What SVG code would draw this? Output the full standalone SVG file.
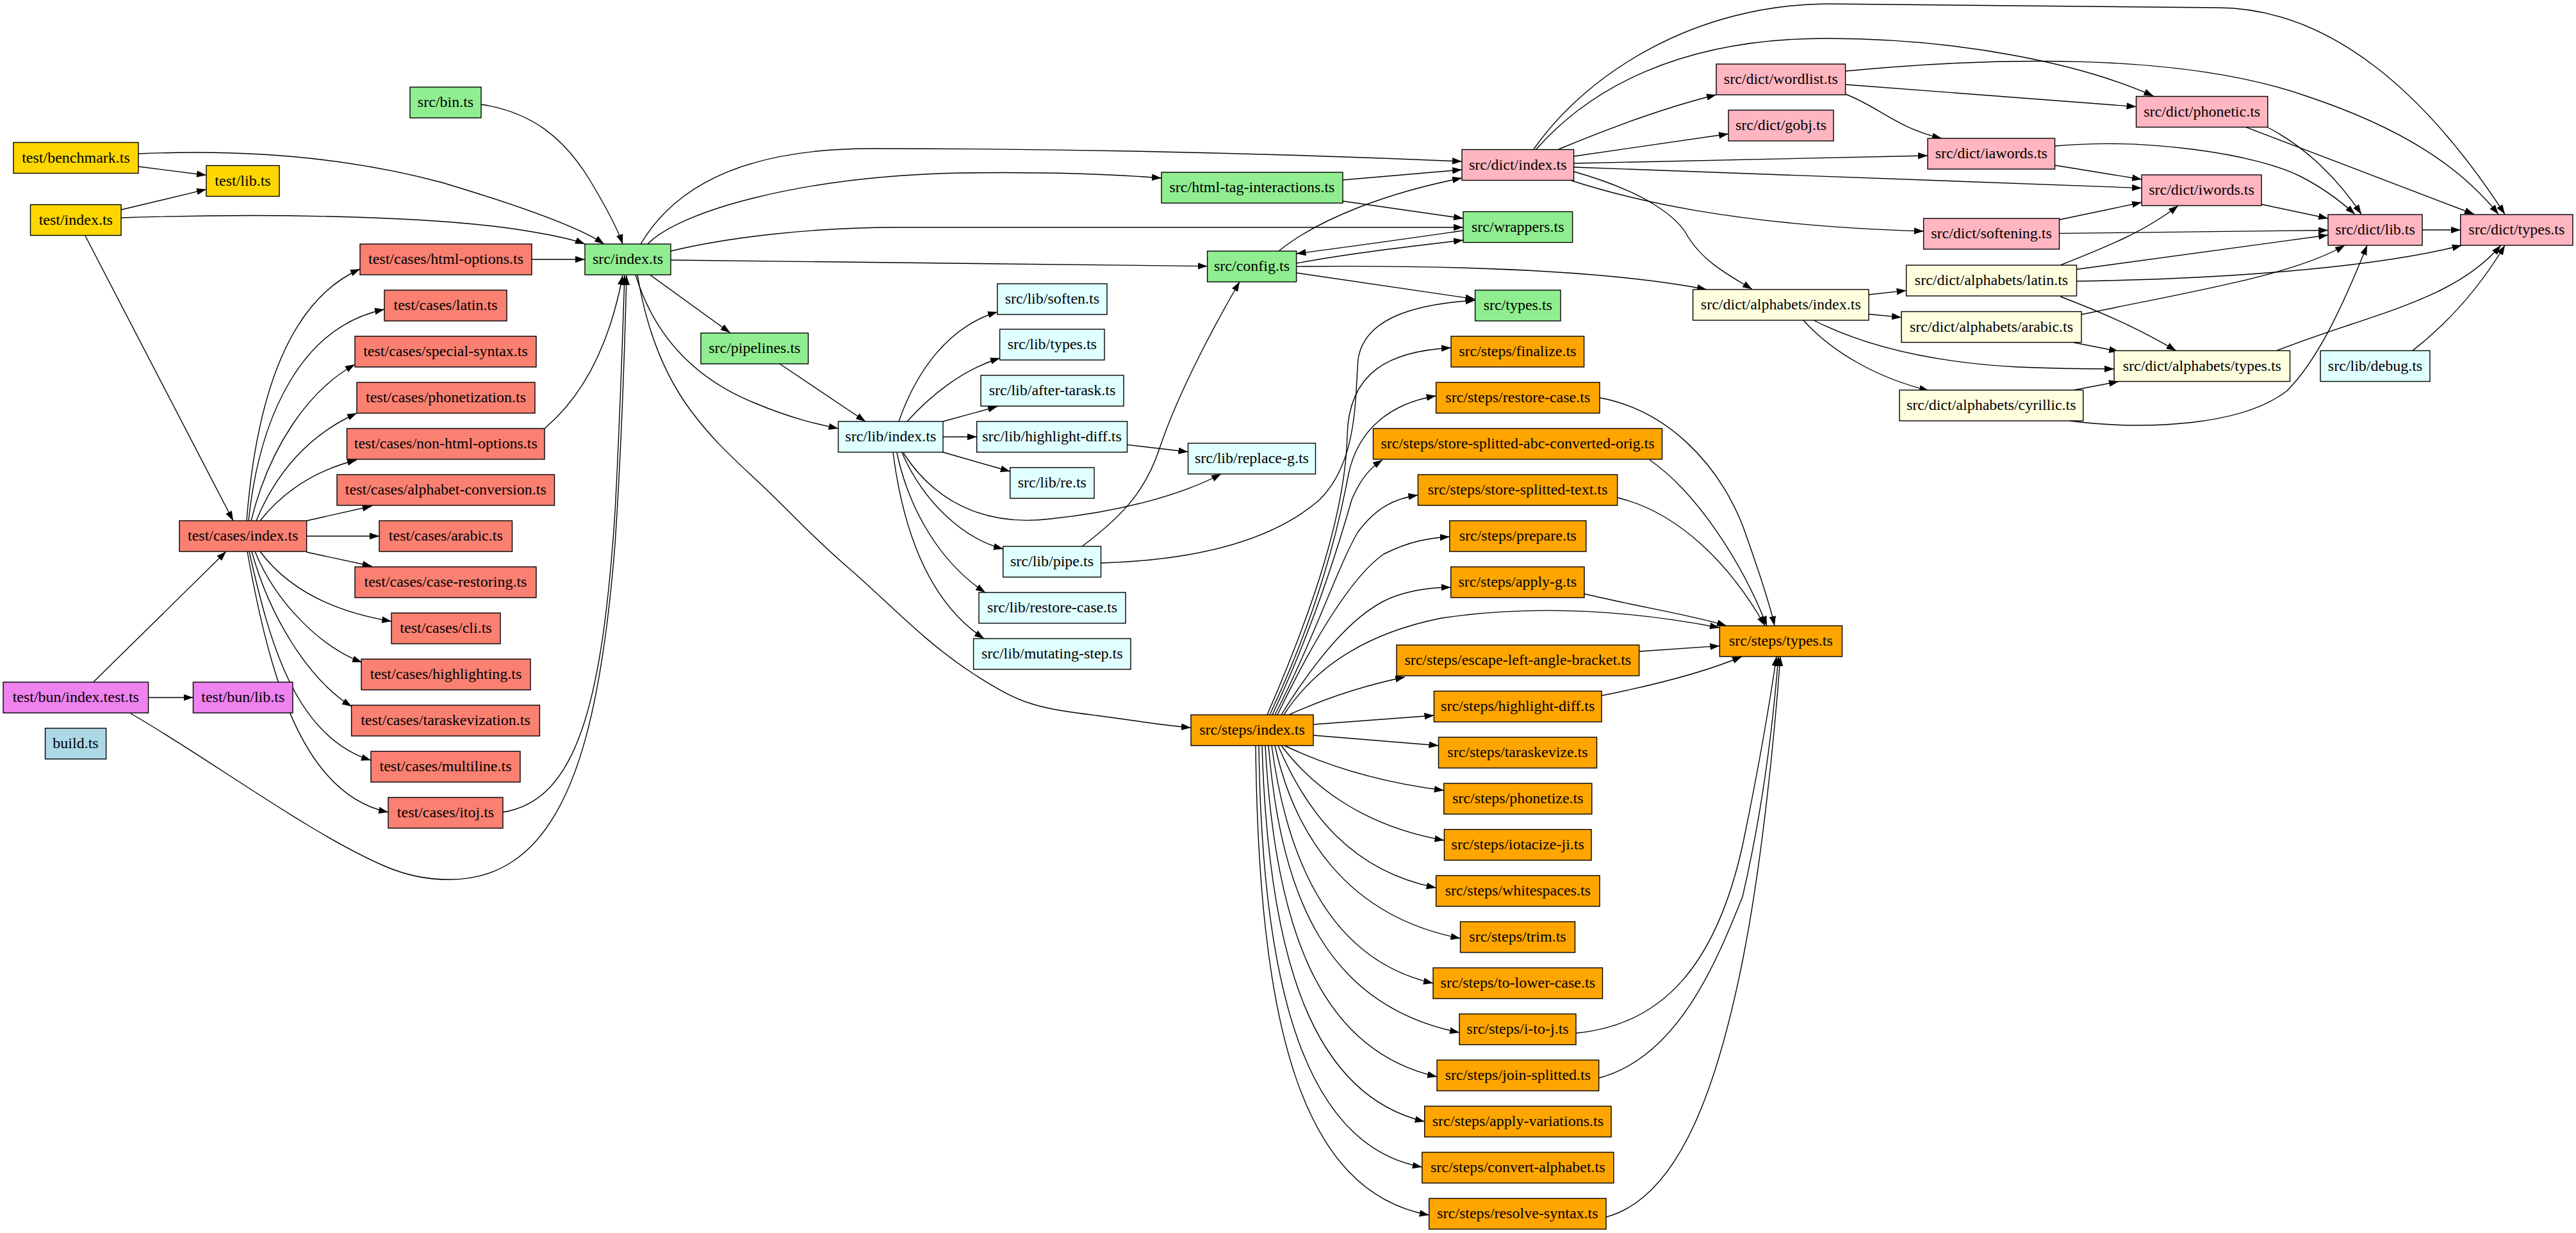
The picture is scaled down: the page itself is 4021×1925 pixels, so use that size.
<svg xmlns="http://www.w3.org/2000/svg" width="4021" height="1925" viewBox="0 0 4021 1925">
<defs>
<marker id="arr" markerUnits="userSpaceOnUse" markerWidth="16" markerHeight="12" refX="15" refY="5.3" orient="auto"><path d="M0,0 L15,5.3 L0,10.6 z" fill="#000"/></marker>
<style>
.n rect{stroke:#000;stroke-width:1.4}
.n text{font-family:"Liberation Serif","Times New Roman",serif;font-size:24px;text-anchor:middle;fill:#000}
#edges path{fill:none;stroke:#000;stroke-width:1.4;marker-end:url(#arr)}
.gold{fill:#ffd700}.lg{fill:#90ee90}.sal{fill:#fa8072}.vio{fill:#ee82ee}.lb{fill:#add8e6}.lc{fill:#e0ffff}.lp{fill:#ffb6c1}.ly{fill:#ffffe0}.or{fill:#ffa500}
</style>
</defs>
<rect width="4021" height="1925" fill="#fff"/>
<g id="edges">
<path d="M216,260 L322,273.5"/>
<path d="M216,240 C400,232 560,250 690,285 C800,318 900,352 943,381"/>
<path d="M189,327.5 L322,295.6"/>
<path d="M189,340 C400,333 650,336 800,357 C860,366 895,374 913,381"/>
<path d="M133,368 L364,813"/>
<path d="M751,163 C830,175 880,215 920,280 C950,330 965,360 972,381"/>
<path d="M830,405 L913,405"/>
<path d="M385,813 C400,620 450,470 562,420"/>
<path d="M388,813 C405,650 470,510 600,483"/>
<path d="M392,813 C420,700 480,610 554,569"/>
<path d="M400,813 C430,740 480,680 557,645"/>
<path d="M406,813 C440,770 490,735 557,718"/>
<path d="M478.6,813 L580.6,790"/>
<path d="M478.6,837 L592,837"/>
<path d="M478.6,862 L580.6,884"/>
<path d="M406,861 C450,920 520,955 611,970"/>
<path d="M398,861 C430,940 500,1010 565,1034"/>
<path d="M393,861 C420,960 480,1060 549,1103"/>
<path d="M389,861 C420,1000 460,1150 579,1187"/>
<path d="M386,861 C420,1050 470,1240 606,1268"/>
<path d="M850,669 C920,610 955,520 972,430"/>
<path d="M785,1268 C900,1250 940,1100 960,800 C968,650 972,520 975,430"/>
<path d="M204,1114 C320,1180 480,1300 600,1352 C660,1378 740,1385 800,1345 C900,1280 940,1100 960,850 C970,700 975,550 978,430"/>
<path d="M145.6,1065 L353,861"/>
<path d="M231.6,1089 L301.5,1089"/>
<path d="M1000,381 C1060,280 1180,232 1360,232 C1700,232 2000,240 2282,252"/>
<path d="M1011,381 C1060,330 1250,275 1500,270 C1650,268 1750,273 1813,278"/>
<path d="M1047,392 C1130,372 1260,355 1400,355 L2284,355"/>
<path d="M1047,406 L1884.6,415.6"/>
<path d="M1014.6,429 L1139.7,519.6"/>
<path d="M992,429 C1020,520 1080,590 1180,630 C1240,655 1280,663 1308.5,669"/>
<path d="M995,429 C1010,520 1040,590 1079,642 S1150,720 1197,765 S1270,840 1326,888 S1440,1000 1518,1051 S1620,1105 1711,1117 S1810,1132 1859,1136"/>
<path d="M1217,568 L1351,658"/>
<path d="M1403,658 C1430,580 1480,510 1557,487"/>
<path d="M1416,658 C1450,620 1500,578 1561,559"/>
<path d="M1472,658 L1557,634.6"/>
<path d="M1472,682 L1524.7,682"/>
<path d="M1472,706 L1576.7,736"/>
<path d="M1410,707 C1470,800 1560,820 1640,810 C1740,800 1840,775 1906,740"/>
<path d="M1408,707 C1440,780 1500,840 1566,857"/>
<path d="M1400,707 C1420,800 1470,880 1538,925"/>
<path d="M1394,707 C1410,830 1450,940 1536,997"/>
<path d="M1759.5,694.4 L1854.5,705.5"/>
<path d="M1689,853 C1760,800 1790,760 1810,700 C1840,610 1900,500 1935,440"/>
<path d="M1718,879 C1850,875 1980,850 2060,780 C2120,720 2115,620 2120,560 C2130,500 2200,475 2302.6,469"/>
<path d="M1978,1116 C2050,950 2100,800 2103,680 C2105,580 2170,548 2265,543"/>
<path d="M1982,1116 C2060,950 2090,820 2105,740 C2120,670 2170,630 2241.6,618"/>
<path d="M1986,1116 C2050,980 2090,850 2110,780 C2125,745 2140,730 2158,718"/>
<path d="M1990,1116 C2050,1000 2090,880 2120,830 C2150,790 2180,778 2213.4,773"/>
<path d="M1994,1116 C2050,1000 2110,900 2160,865 C2200,845 2230,840 2262.8,838"/>
<path d="M2000,1116 C2060,1020 2120,950 2180,930 C2210,920 2240,917 2264.7,917"/>
<path d="M2004,1116 C2060,1030 2150,985 2250,965 C2420,940 2580,960 2684,980"/>
<path d="M2012,1116 C2080,1085 2140,1068 2193,1057"/>
<path d="M2050,1131 L2238.4,1117"/>
<path d="M2050,1148 L2245.5,1164"/>
<path d="M2005,1164 C2080,1200 2160,1222 2253.8,1234"/>
<path d="M2000,1164 C2050,1230 2130,1290 2254.4,1312"/>
<path d="M1995,1164 C2040,1270 2110,1360 2241.6,1386"/>
<path d="M1990,1164 C2020,1300 2100,1430 2279.5,1465"/>
<path d="M1985,1164 C2010,1350 2080,1500 2237,1535"/>
<path d="M1980,1164 C2000,1400 2070,1570 2278,1612"/>
<path d="M1975,1164 C1990,1450 2060,1640 2243,1681"/>
<path d="M1970,1164 C1980,1500 2050,1710 2223.7,1751"/>
<path d="M1965,1164 C1970,1550 2040,1790 2219.8,1822"/>
<path d="M1960,1164 C1965,1600 2030,1860 2230.7,1897"/>
<path d="M2497,621 C2600,640 2680,720 2720,820 C2745,890 2762,940 2770,977"/>
<path d="M2575,718 C2650,770 2720,880 2758,977"/>
<path d="M2525,777 C2620,800 2700,880 2755,977"/>
<path d="M2473,927 C2560,948 2640,960 2695,977"/>
<path d="M2558.6,1017 L2684.3,1008.4"/>
<path d="M2500,1086 C2580,1070 2660,1050 2719,1025"/>
<path d="M2460,1613 C2600,1600 2680,1500 2720,1320 C2745,1200 2762,1100 2773,1025"/>
<path d="M2496,1683 C2620,1650 2680,1500 2720,1400 C2755,1250 2770,1100 2776,1025"/>
<path d="M2507,1900 C2620,1870 2680,1700 2720,1500 C2750,1350 2770,1150 2779,1025"/>
<path d="M1996,392 C2060,340 2170,300 2282,278"/>
<path d="M2023.5,411 C2110,395 2200,385 2284,375"/>
<path d="M2284,360 C2200,372 2110,385 2023.5,396"/>
<path d="M2023.5,426 L2302.6,467"/>
<path d="M2023.5,416 C2250,414 2500,420 2664,452"/>
<path d="M2096,281 L2282,265"/>
<path d="M2096,314 L2284,341"/>
<path d="M2433,233 C2500,205 2590,170 2679,148"/>
<path d="M2456.6,244 L2698,209"/>
<path d="M2456.6,255 L3009,243"/>
<path d="M2456.6,261 L3343,293.6"/>
<path d="M2453,282 C2540,310 2700,352 3002.6,361"/>
<path d="M2457,268 C2570,300 2620,340 2635,370 C2660,410 2700,430 2735,451.6"/>
<path d="M2398,233 C2480,140 2620,60 2850,60 C3060,60 3250,100 3361.5,150"/>
<path d="M2394,233 C2480,110 2650,8 2850,6 L3460,12 C3640,12 3790,150 3910,334.5"/>
<path d="M2880.6,111 C3100,90 3400,80 3600,150 C3750,200 3840,260 3900,334.5"/>
<path d="M2880.6,132 L3334.5,166.6"/>
<path d="M2880.6,147 C2930,165 2960,200 3031,216"/>
<path d="M3207.5,228 C3350,215 3520,240 3590,275 C3630,295 3660,320 3676,334.5"/>
<path d="M3207.5,258 L3343,280"/>
<path d="M3214.5,343 L3343,316"/>
<path d="M3214.5,364.4 L3634,359.5"/>
<path d="M3530,319 L3634,341"/>
<path d="M3540,199 C3600,230 3650,280 3686,334.5"/>
<path d="M3506,198.6 L3862,334.5"/>
<path d="M3781,359 L3840.7,359"/>
<path d="M3216,414 C3290,385 3350,360 3400,321"/>
<path d="M3241.5,420.5 L3634,367"/>
<path d="M3241.5,439 C3450,436 3700,420 3842.7,383"/>
<path d="M3216,463 C3300,495 3350,520 3396.7,547.4"/>
<path d="M3249,491 C3420,455 3580,430 3660,383"/>
<path d="M3237,534.7 L3307,548.6"/>
<path d="M3554,547.4 C3700,490 3830,470 3903.6,383"/>
<path d="M3766,547.4 C3820,505 3870,450 3910,383"/>
<path d="M3237,609 L3307,595.7"/>
<path d="M3230,657 C3350,672 3500,665 3570,610 C3620,560 3660,470 3695,383"/>
<path d="M2917,460 L2975.6,453.6"/>
<path d="M2917,490.5 L2968,495.4"/>
<path d="M2831,500 C2900,535 3000,565 3150,573 C3220,576 3260,576 3300,576"/>
<path d="M2815,500 C2860,550 2930,590 3011,610"/>
</g>
<g id="n-test-benchmark" class="n"><rect class="gold" x="21" y="222.5" width="195" height="48"/><text x="118.5" y="253.5">test/benchmark.ts</text></g>
<g id="n-test-lib" class="n"><rect class="gold" x="322" y="258.5" width="114" height="48"/><text x="379" y="289.5">test/lib.ts</text></g>
<g id="n-test-index" class="n"><rect class="gold" x="47.5" y="319.5" width="141.5" height="48"/><text x="118.3" y="350.5">test/index.ts</text></g>
<g id="n-src-bin" class="n"><rect class="lg" x="640" y="136" width="111" height="48"/><text x="695.5" y="167">src/bin.ts</text></g>
<g id="n-tc-html-options" class="n"><rect class="sal" x="562" y="381" width="268" height="48"/><text x="696" y="412">test/cases/html-options.ts</text></g>
<g id="n-src-index" class="n"><rect class="lg" x="913" y="381" width="134" height="48"/><text x="980" y="412">src/index.ts</text></g>
<g id="n-tc-latin" class="n"><rect class="sal" x="600" y="453" width="191" height="48"/><text x="695.5" y="484">test/cases/latin.ts</text></g>
<g id="n-tc-special-syntax" class="n"><rect class="sal" x="554" y="525" width="283" height="48"/><text x="695.5" y="556">test/cases/special-syntax.ts</text></g>
<g id="n-tc-phonetization" class="n"><rect class="sal" x="557" y="597" width="278" height="48"/><text x="696" y="628">test/cases/phonetization.ts</text></g>
<g id="n-tc-non-html-options" class="n"><rect class="sal" x="541.5" y="669" width="308.5" height="48"/><text x="695.8" y="700">test/cases/non-html-options.ts</text></g>
<g id="n-tc-alphabet-conversion" class="n"><rect class="sal" x="526" y="741" width="339.5" height="48"/><text x="695.8" y="772">test/cases/alphabet-conversion.ts</text></g>
<g id="n-tc-index" class="n"><rect class="sal" x="280" y="813" width="198.6" height="48"/><text x="379.3" y="844">test/cases/index.ts</text></g>
<g id="n-tc-arabic" class="n"><rect class="sal" x="592" y="813" width="207.5" height="48"/><text x="695.8" y="844">test/cases/arabic.ts</text></g>
<g id="n-tc-case-restoring" class="n"><rect class="sal" x="554" y="885" width="283" height="48"/><text x="695.5" y="916">test/cases/case-restoring.ts</text></g>
<g id="n-tc-cli" class="n"><rect class="sal" x="611" y="957" width="170" height="48"/><text x="696" y="988">test/cases/cli.ts</text></g>
<g id="n-tc-highlighting" class="n"><rect class="sal" x="564" y="1029" width="264" height="48"/><text x="696" y="1060">test/cases/highlighting.ts</text></g>
<g id="n-tc-taraskevization" class="n"><rect class="sal" x="548.6" y="1101" width="293.8" height="48"/><text x="695.5" y="1132">test/cases/taraskevization.ts</text></g>
<g id="n-tc-multiline" class="n"><rect class="sal" x="579" y="1173" width="233" height="48"/><text x="695.5" y="1204">test/cases/multiline.ts</text></g>
<g id="n-tc-itoj" class="n"><rect class="sal" x="606" y="1245" width="179" height="48"/><text x="695.5" y="1276">test/cases/itoj.ts</text></g>
<g id="n-bun-index-test" class="n"><rect class="vio" x="5" y="1065" width="226.6" height="48"/><text x="118.3" y="1096">test/bun/index.test.ts</text></g>
<g id="n-bun-lib" class="n"><rect class="vio" x="301.5" y="1065" width="155.5" height="48"/><text x="379.3" y="1096">test/bun/lib.ts</text></g>
<g id="n-build" class="n"><rect class="lb" x="70.6" y="1137" width="95" height="48"/><text x="118" y="1168">build.ts</text></g>
<g id="n-src-pipelines" class="n"><rect class="lg" x="1094" y="520" width="167.6" height="48"/><text x="1177.8" y="551">src/pipelines.ts</text></g>
<g id="n-lib-index" class="n"><rect class="lc" x="1308.5" y="658" width="163.5" height="48"/><text x="1390.3" y="689">src/lib/index.ts</text></g>
<g id="n-lib-soften" class="n"><rect class="lc" x="1556.8" y="443" width="171.2" height="48"/><text x="1642.4" y="474">src/lib/soften.ts</text></g>
<g id="n-lib-types" class="n"><rect class="lc" x="1560.6" y="514" width="163.4" height="48"/><text x="1642.3" y="545">src/lib/types.ts</text></g>
<g id="n-lib-after-tarask" class="n"><rect class="lc" x="1531" y="586" width="223" height="48"/><text x="1642.5" y="617">src/lib/after-tarask.ts</text></g>
<g id="n-lib-highlight-diff" class="n"><rect class="lc" x="1524.7" y="658" width="234.8" height="48"/><text x="1642" y="689">src/lib/highlight-diff.ts</text></g>
<g id="n-lib-re" class="n"><rect class="lc" x="1576.7" y="730" width="131.3" height="48"/><text x="1642.3" y="761">src/lib/re.ts</text></g>
<g id="n-lib-pipe" class="n"><rect class="lc" x="1565.7" y="853" width="152.8" height="48"/><text x="1642" y="884">src/lib/pipe.ts</text></g>
<g id="n-lib-restore-case" class="n"><rect class="lc" x="1528" y="925" width="229" height="48"/><text x="1642.5" y="956">src/lib/restore-case.ts</text></g>
<g id="n-lib-mutating-step" class="n"><rect class="lc" x="1519.6" y="997" width="245.4" height="48"/><text x="1642.3" y="1028">src/lib/mutating-step.ts</text></g>
<g id="n-html-tag" class="n"><rect class="lg" x="1813" y="269" width="283" height="48"/><text x="1954.5" y="300">src/html-tag-interactions.ts</text></g>
<g id="n-config" class="n"><rect class="lg" x="1884.6" y="392" width="139" height="48"/><text x="1954" y="423">src/config.ts</text></g>
<g id="n-lib-replace-g" class="n"><rect class="lc" x="1854.5" y="692" width="199" height="48"/><text x="1954" y="723">src/lib/replace-g.ts</text></g>
<g id="n-steps-index" class="n"><rect class="or" x="1859" y="1116" width="191" height="48"/><text x="1954.5" y="1147">src/steps/index.ts</text></g>
<g id="n-dict-index" class="n"><rect class="lp" x="2282" y="233.5" width="174.6" height="48"/><text x="2369.3" y="264.5">src/dict/index.ts</text></g>
<g id="n-wrappers" class="n"><rect class="lg" x="2284" y="330.5" width="170.6" height="48"/><text x="2369.3" y="361.5">src/wrappers.ts</text></g>
<g id="n-types" class="n"><rect class="lg" x="2302.6" y="453" width="133.4" height="48"/><text x="2369.3" y="484">src/types.ts</text></g>
<g id="n-st-finalize" class="n"><rect class="or" x="2265" y="525" width="207.6" height="48"/><text x="2368.8" y="556">src/steps/finalize.ts</text></g>
<g id="n-st-restore-case" class="n"><rect class="or" x="2241.6" y="597" width="255.4" height="48"/><text x="2369.3" y="628">src/steps/restore-case.ts</text></g>
<g id="n-st-store-abc" class="n"><rect class="or" x="2143.5" y="669" width="451" height="48"/><text x="2369" y="700">src/steps/store-splitted-abc-converted-orig.ts</text></g>
<g id="n-st-store-text" class="n"><rect class="or" x="2213.4" y="741" width="311.2" height="48"/><text x="2369" y="772">src/steps/store-splitted-text.ts</text></g>
<g id="n-st-prepare" class="n"><rect class="or" x="2262.8" y="813" width="213" height="48"/><text x="2369.3" y="844">src/steps/prepare.ts</text></g>
<g id="n-st-apply-g" class="n"><rect class="or" x="2264.7" y="885" width="208.3" height="48"/><text x="2368.8" y="916">src/steps/apply-g.ts</text></g>
<g id="n-st-escape" class="n"><rect class="or" x="2180" y="1007" width="378.6" height="48"/><text x="2369.3" y="1038">src/steps/escape-left-angle-bracket.ts</text></g>
<g id="n-st-highlight-diff" class="n"><rect class="or" x="2238.4" y="1079" width="261.6" height="48"/><text x="2369.2" y="1110">src/steps/highlight-diff.ts</text></g>
<g id="n-st-taraskevize" class="n"><rect class="or" x="2245.5" y="1151" width="247" height="48"/><text x="2369" y="1182">src/steps/taraskevize.ts</text></g>
<g id="n-st-phonetize" class="n"><rect class="or" x="2253.8" y="1223" width="231" height="48"/><text x="2369.3" y="1254">src/steps/phonetize.ts</text></g>
<g id="n-st-iotacize" class="n"><rect class="or" x="2254.4" y="1295" width="229.6" height="48"/><text x="2369.2" y="1326">src/steps/iotacize-ji.ts</text></g>
<g id="n-st-whitespaces" class="n"><rect class="or" x="2241.6" y="1367" width="255.4" height="48"/><text x="2369.3" y="1398">src/steps/whitespaces.ts</text></g>
<g id="n-st-trim" class="n"><rect class="or" x="2279.5" y="1439" width="179" height="48"/><text x="2369" y="1470">src/steps/trim.ts</text></g>
<g id="n-st-to-lower-case" class="n"><rect class="or" x="2237" y="1511" width="264.5" height="48"/><text x="2369.3" y="1542">src/steps/to-lower-case.ts</text></g>
<g id="n-st-i-to-j" class="n"><rect class="or" x="2278" y="1583" width="182" height="48"/><text x="2369" y="1614">src/steps/i-to-j.ts</text></g>
<g id="n-st-join-splitted" class="n"><rect class="or" x="2243" y="1655" width="252.7" height="48"/><text x="2369.4" y="1686">src/steps/join-splitted.ts</text></g>
<g id="n-st-apply-variations" class="n"><rect class="or" x="2223.7" y="1727" width="291.3" height="48"/><text x="2369.4" y="1758">src/steps/apply-variations.ts</text></g>
<g id="n-st-convert-alphabet" class="n"><rect class="or" x="2219.8" y="1799" width="299" height="48"/><text x="2369.3" y="1830">src/steps/convert-alphabet.ts</text></g>
<g id="n-st-resolve-syntax" class="n"><rect class="or" x="2230.7" y="1871" width="276.3" height="48"/><text x="2368.9" y="1902">src/steps/resolve-syntax.ts</text></g>
<g id="n-dict-wordlist" class="n"><rect class="lp" x="2679" y="100" width="201.6" height="48"/><text x="2779.8" y="131">src/dict/wordlist.ts</text></g>
<g id="n-dict-gobj" class="n"><rect class="lp" x="2698" y="172" width="164" height="48"/><text x="2780" y="203">src/dict/gobj.ts</text></g>
<g id="n-alph-index" class="n"><rect class="ly" x="2642.6" y="452" width="274.4" height="48"/><text x="2779.8" y="483">src/dict/alphabets/index.ts</text></g>
<g id="n-st-types" class="n"><rect class="or" x="2684.3" y="977" width="191.2" height="48"/><text x="2779.9" y="1008">src/steps/types.ts</text></g>
<g id="n-dict-iawords" class="n"><rect class="lp" x="3009" y="216" width="198.5" height="48"/><text x="3108.3" y="247">src/dict/iawords.ts</text></g>
<g id="n-dict-softening" class="n"><rect class="lp" x="3002.6" y="341" width="211.9" height="48"/><text x="3108.5" y="372">src/dict/softening.ts</text></g>
<g id="n-alph-latin" class="n"><rect class="ly" x="2975.6" y="414" width="265.9" height="48"/><text x="3108.5" y="445">src/dict/alphabets/latin.ts</text></g>
<g id="n-alph-arabic" class="n"><rect class="ly" x="2968" y="486.5" width="281" height="48"/><text x="3108.5" y="517.5">src/dict/alphabets/arabic.ts</text></g>
<g id="n-alph-cyrillic" class="n"><rect class="ly" x="2965" y="609" width="286.7" height="48"/><text x="3108.3" y="640">src/dict/alphabets/cyrillic.ts</text></g>
<g id="n-dict-phonetic" class="n"><rect class="lp" x="3334.5" y="150.5" width="205.3" height="48"/><text x="3437.2" y="181.5">src/dict/phonetic.ts</text></g>
<g id="n-dict-iwords" class="n"><rect class="lp" x="3343" y="273" width="187" height="48"/><text x="3436.5" y="304">src/dict/iwords.ts</text></g>
<g id="n-alph-types" class="n"><rect class="ly" x="3300" y="547.5" width="274.5" height="48"/><text x="3437.3" y="578.5">src/dict/alphabets/types.ts</text></g>
<g id="n-dict-lib" class="n"><rect class="lp" x="3634" y="335" width="147" height="48"/><text x="3707.5" y="366">src/dict/lib.ts</text></g>
<g id="n-lib-debug" class="n"><rect class="lc" x="3622" y="547.5" width="171" height="48"/><text x="3707.5" y="578.5">src/lib/debug.ts</text></g>
<g id="n-dict-types" class="n"><rect class="lp" x="3840.7" y="335" width="175.3" height="48"/><text x="3928.3" y="366">src/dict/types.ts</text></g>
</svg>
